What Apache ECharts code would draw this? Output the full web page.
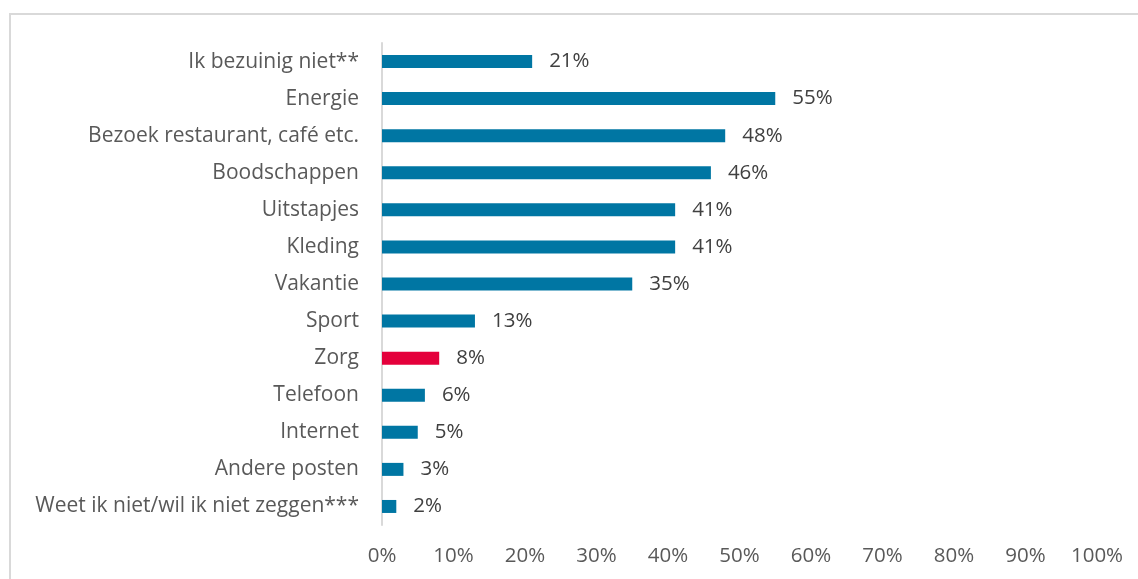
<!DOCTYPE html>
<html lang="nl">
<head>
    <meta charset="UTF-8">
    <title>bezuinigingen</title>
    <script src="https://cdn.jsdelivr.net/npm/echarts@6/dist/echarts.min.js"></script>
    <style>
        html, body { margin: 0; padding: 0; background: #fff; }
        #main { width: 1138px; height: 579px; }
    </style>
</head>
<body>
<div id="main"></div>
<script>
    // categorieen van boven naar beneden
    var categories = [
        'Ik bezuinig niet**',
        'Energie',
        'Bezoek restaurant, café etc.',
        'Boodschappen',
        'Uitstapjes',
        'Kleding',
        'Vakantie',
        'Sport',
        'Zorg',
        'Telefoon',
        'Internet',
        'Andere posten',
        'Weet ik niet/wil ik niet zeggen***'
    ];
    var values = [21, 55, 48, 46, 41, 41, 35, 13, 8, 6, 5, 3, 2];
    var highlight = 'Zorg';

    var blue = '#0076A3';
    var red = '#E4003B';
    var font = '"Open Sans", "Liberation Sans", sans-serif';

    var myChart = echarts.init(document.getElementById('main'));

    var option = {
        backgroundColor: '#fff',
        animation: false,
        graphic: [{
            type: 'rect',
            shape: {x: 10, y: 14, width: 1140, height: 600},
            style: {fill: 'none', stroke: '#D9D9D9', lineWidth: 2},
            silent: true
        }],
        grid: {left: 382, right: 41, top: 43, bottom: 54},
        xAxis: {
            type: 'value',
            min: 0,
            max: 100,
            interval: 10,
            axisLine: {show: false},
            axisTick: {show: false},
            splitLine: {show: false},
            axisLabel: {
                formatter: '{value}%',
                color: '#595959',
                fontSize: 20.5,
                fontFamily: font,
                margin: 21
            }
        },
        yAxis: {
            type: 'category',
            data: categories,
            inverse: true,
            axisLine: {show: true, lineStyle: {color: '#D9D9D9', width: 2}},
            axisTick: {show: false},
            axisLabel: {
                color: '#595959',
                fontSize: 21,
                fontFamily: font,
                margin: 23
            }
        },
        series: [{
            type: 'bar',
            barWidth: 13,
            data: values.map(function (v, i) {
                return {
                    value: v,
                    itemStyle: {color: categories[i] === highlight ? red : blue}
                };
            }),
            label: {
                show: true,
                position: 'right',
                distance: 17,
                formatter: '{c}%',
                color: '#404040',
                fontSize: 20.5,
                fontFamily: font
            }
        }]
    };

    myChart.setOption(option);
</script>
</body>
</html>
